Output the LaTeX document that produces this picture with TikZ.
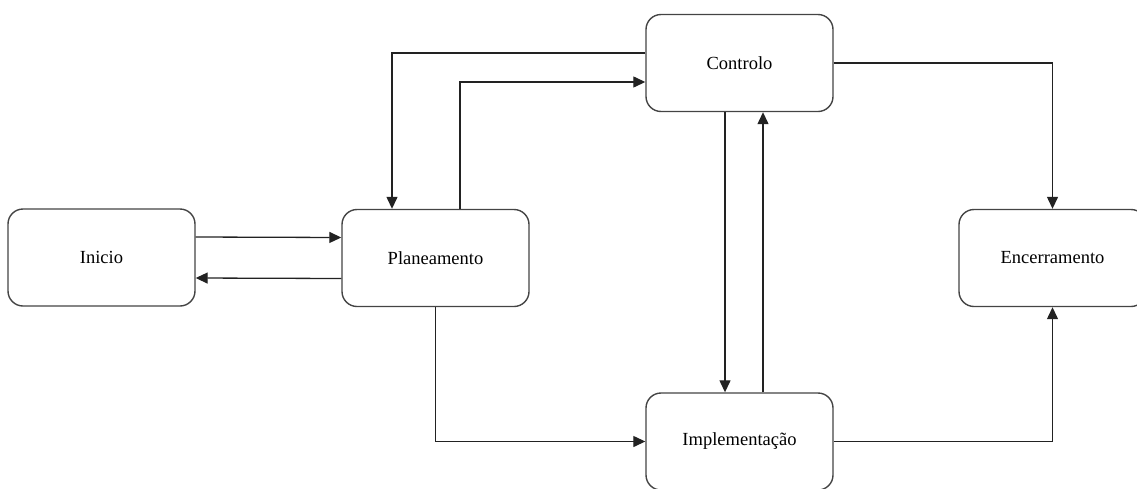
\documentclass[tikz,border=0pt]{standalone}
\usepackage{fontspec}
\setmainfont{Liberation Serif}
\usetikzlibrary{arrows.meta}

\definecolor{linegray}{HTML}{444444}
\definecolor{arrowgray}{HTML}{222222}

\tikzset{
    phase/.style={draw=linegray, line width=1.4pt, rounded corners=15pt,
        minimum width=187pt, minimum height=97pt, inner sep=0pt,
        font=\fontsize{18.5}{22}\selectfont},
    flow/.style={draw=arrowgray, line width=1.3pt,
        -{Triangle[length=12pt,width=11pt]}}
}

\begin{document}
\begin{tikzpicture}[x=1pt, y=-1pt]
            \useasboundingbox (0,0) rectangle (1137,488);

            \node[phase] (ini) at (101.5,257.5) {Inicio};
            \node[phase] (plan) at (435.5,258) {Planeamento};
            \node[phase] (ctrl) at (739.5,63) {Controlo};
            \node[phase] (impl) at (739.5,441.5) {Implementação};
            \node[phase] (enc) at (1052.5,258) {Encerramento};

            \path[flow] ([yshift=20.5pt]ini.east) -- ([yshift=20.5pt]plan.west);
            \path[flow] ([yshift=-20.5pt]plan.west) -- ([yshift=-20.5pt]ini.east);
            \path[flow] ([yshift=10pt]ctrl.west) -| ([xshift=-43.5pt]plan.north);
            \path[flow] ([xshift=24.5pt]plan.north) |- ([yshift=-19pt]ctrl.west);
            \path[flow] ([xshift=-14.5pt]ctrl.south) -- ([xshift=-14.5pt]impl.north);
            \path[flow] ([xshift=23.5pt]impl.north) -- ([xshift=23.5pt]ctrl.south);
            \path[flow] (ctrl.east) -| (enc.north);
            \path[flow] (impl.east) -| (enc.south);
            \path[flow] (plan.south) |- (impl.west);
        \end{tikzpicture}
\end{document}
